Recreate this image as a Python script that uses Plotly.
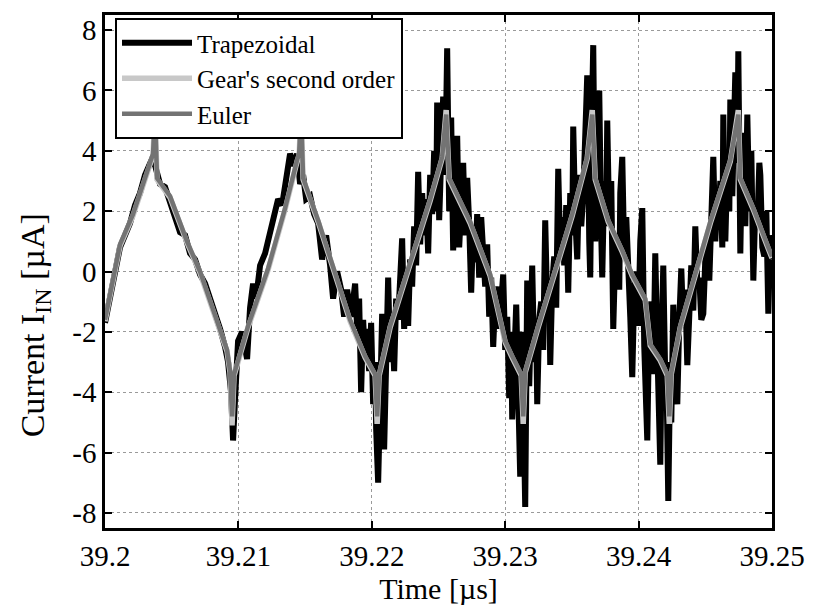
import plotly.graph_objects as go

# ---------------- data ----------------
# Trapezoidal integration (noisy), time in µs, current in µA
trap_t = [
    39.2, 39.200375, 39.20075, 39.201125, 39.2015, 39.201875, 39.20225, 39.202625, 39.203, 39.203375,
    39.2036, 39.203825, 39.204125, 39.2045, 39.204875, 39.20525, 39.205625, 39.206, 39.206375, 39.20675,
    39.207125, 39.2075, 39.207875, 39.20825, 39.208625, 39.209, 39.209225, 39.20945, 39.2096, 39.20975,
    39.209975, 39.210275, 39.21065, 39.210875, 39.2111, 39.211325, 39.211625, 39.212, 39.212375, 39.212675,
    39.212975, 39.213275, 39.213575, 39.213875, 39.214175, 39.2144, 39.214625, 39.21485, 39.215075, 39.215375,
    39.215675, 39.215975, 39.216275, 39.216575, 39.216875, 39.2171, 39.2174, 39.2177, 39.217925, 39.21815,
    39.21845,
    39.21875, 39.2189, 39.21905, 39.2192, 39.21935, 39.2195, 39.21965, 39.2198, 39.21995, 39.2201,
    39.22025, 39.220325, 39.220475, 39.220625, 39.220775, 39.220925, 39.221075, 39.221225, 39.221375, 39.221525,
    39.221675, 39.221825, 39.221975, 39.222125, 39.222275, 39.222425, 39.222575, 39.222725, 39.222875, 39.223025,
    39.223175, 39.223325, 39.223475, 39.223625, 39.223775, 39.223925, 39.224075, 39.224225, 39.224375, 39.224525,
    39.224675, 39.224825, 39.2249, 39.22505, 39.2252, 39.22535, 39.2255, 39.22565, 39.2258, 39.22595,
    39.2261, 39.22625, 39.2264, 39.22655, 39.2267, 39.22685, 39.227, 39.22715, 39.2273, 39.22745,
    39.2276, 39.22775, 39.2279, 39.22805, 39.2282, 39.22835, 39.2285, 39.22865, 39.2288, 39.22895,
    39.2291, 39.22925, 39.2294, 39.22955, 39.2297, 39.22985, 39.23, 39.23015, 39.2303, 39.23045,
    39.230525, 39.230675, 39.230825, 39.230975, 39.231125, 39.231275, 39.231425, 39.2315, 39.23165, 39.2318,
    39.23195, 39.232025, 39.232175, 39.232325, 39.2324, 39.23255, 39.2327, 39.23285, 39.233, 39.23315,
    39.2333, 39.233375, 39.233525, 39.233675, 39.233825, 39.233975, 39.234125, 39.234275, 39.234425, 39.234575,
    39.234725, 39.234875, 39.235025, 39.2351, 39.23525, 39.2354, 39.23555, 39.2357, 39.23585, 39.236,
    39.23615, 39.2363, 39.236375, 39.236525, 39.2366, 39.23675, 39.2369, 39.23705, 39.2372, 39.237275,
    39.237425, 39.237575, 39.23765, 39.2378, 39.23795, 39.2381, 39.23825, 39.2384, 39.23855, 39.238625,
    39.238775, 39.238925, 39.239075, 39.239225, 39.239375, 39.239525, 39.239675, 39.239825, 39.239975, 39.240125,
    39.240275, 39.240425, 39.240575, 39.24065, 39.2408, 39.24095, 39.2411, 39.24125, 39.2414, 39.24155,
    39.241625, 39.241775, 39.24185, 39.242, 39.242075, 39.242225, 39.242375, 39.24245, 39.2426, 39.24275,
    39.2429, 39.24305, 39.2432, 39.24335, 39.2435, 39.24365, 39.2438, 39.24395, 39.2441, 39.24425,
    39.2444, 39.24455, 39.2447, 39.24485, 39.245, 39.24515, 39.2453, 39.24545, 39.2456, 39.24575,
    39.2459, 39.245975, 39.246125, 39.246275, 39.24635, 39.2465, 39.24665, 39.2468, 39.246875, 39.247025,
    39.2471, 39.24725, 39.2474, 39.247475, 39.247625, 39.247775, 39.24785, 39.248, 39.24815, 39.2483,
    39.24845, 39.2486, 39.24875, 39.2489, 39.24905, 39.249125, 39.249275, 39.249425, 39.249575, 39.249725,
    39.249875, 39.25,
]
trap_i = [
    -1.7, -0.9, -0.2, 0.8, 1.2, 1.6, 2.2, 2.6, 3.2, 3.6,
    3.8, 3.4, 2.9, 2.8, 2.3, 1.9, 1.3, 1.2, 0.6, 0.4,
    -0.1, -0.4, -0.9, -1.3, -1.9, -2.5, -3.0, -4.0, -5.6, -4.2,
    -2.3, -2.0, -2.9, -1.2, -0.4, -0.9, 0.2, 0.6, 1.3, 1.9,
    2.4, 2.2, 3.0, 3.9, 3.5, 3.9, 2.9, 3.2, 2.4, 2.5,
    1.9, 1.6, 0.4, 1.2, 0.2, -0.9, 0.0, -0.6, -1.5, -0.6,
    -1.5,
    -0.4, -1.9, -0.9, -4.0, -1.6, -2.9, -1.9, -3.3, -1.7, -4.4,
    -3.0, -5.2, -7.0, -4.3, -1.4, -5.9, -2.5, -0.2, -3.0, -1.8,
    -3.3, -0.9, -1.6, 0.3, 1.1, -1.9, -0.4, -1.8, 0.4, -0.5,
    1.5, 0.2, 3.3, 0.9, 2.6, 1.2, 2.4, 0.6, 3.2, 1.9,
    4.0, 2.0, 5.6, 1.7, 4.4, 5.8, 3.2, 7.4, 2.0, 5.1,
    0.7, 3.6, 4.5, 0.8, 3.0, 3.6, 1.2, 3.1, 1.6, -0.7,
    1.5, 0.3, 1.9, -0.2, 1.8, 0.3, -0.5, 0.9, -1.5, -0.2,
    -2.5, -0.9, -0.5, -1.9, -0.8, -0.1, -2.6, -1.5, -4.2, -2.0,
    -4.9, -2.4, -1.1, -4.0, -6.8, -2.0, -5.5, -7.8, -0.3, -3.8,
    -1.2, 0.2, -3.0, -2.0, -4.4, -1.6, -1.0, -2.6, 1.7, -1.2,
    -0.5, -3.1, -0.4, 0.5, -1.2, 3.4, 0.6, 1.8, 0.2, 2.2,
    -0.7, 2.6, 1.2, 4.8, 1.8, 0.4, 3.2, 1.5, 2.5, 5.0,
    6.5, 1.0, -0.2, 5.8, 7.5, 1.0, 4.1, 6.0, 1.2, -0.2,
    3.0, 1.8, 5.0, 1.5, 3.0, -1.9, 0.6, 1.0, -0.6, 2.6,
    3.8, 0.5, 1.8, 0.5, -1.5, -3.5, -0.6, 0.0, -1.8, 1.0,
    2.1, -2.5, -4.0, -5.6, -1.5, -1.0, -3.4, 0.6, -2.5, -5.0,
    -6.4, -1.2, 0.2, -3.6, -3.0, -7.6, -3.0, -5.0, -1.1, -3.0,
    -4.4, -1.6, 0.1, -1.8, -0.6, -3.1, -1.0, 0.2, -1.3, 1.5,
    -0.4, -0.2, -1.6, -1.4, 0.4, 1.0, -0.3, 2.0, 3.8, 1.0,
    2.8, 1.5, 3.0, 0.8, 5.2, 1.0, 3.5, 2.0, 5.7, 2.5,
    4.0, 6.6, 3.6, 7.3, 0.6, 4.6, 3.5, 1.5, 5.2, 2.0,
    4.0, -0.3, 2.2, 1.5, 3.6, 3.2, 0.8, 0.5, 2.0, -1.4,
    1.2, 0.4,
]

# Gear's second order and Euler (shared sample times)
smooth_t = [
    39.2, 39.200525, 39.201125, 39.2021, 39.202775, 39.203375, 39.2036, 39.20375, 39.2039, 39.204875,
    39.20615, 39.207125, 39.2081, 39.20915, 39.209375, 39.209525, 39.209675, 39.210725, 39.212225, 39.2135,
    39.2144, 39.21455, 39.2147, 39.21485, 39.215975, 39.21725, 39.218375, 39.2195, 39.22025, 39.2204,
    39.22055, 39.221375, 39.2231, 39.224375, 39.225275, 39.225575, 39.2258, 39.227375, 39.228875, 39.23,
    39.230525, 39.2312, 39.23135, 39.2315, 39.232475, 39.233975, 39.235025, 39.23615, 39.236525, 39.23675,
    39.237725, 39.238775, 39.239525, 39.2405, 39.240875, 39.241625, 39.24215, 39.2423, 39.24245, 39.243125,
    39.2444, 39.245375, 39.246875, 39.247475, 39.247625, 39.2486, 39.249725, 39.25,
]
gear_i = [
    -1.65, -0.55, 0.85, 1.85, 2.75, 3.55, 3.85, 5.35, 3.05, 2.45,
    0.95, -0.05, -1.25, -2.65, -3.35, -5.1, -3.45, -1.85, 0.05, 2.05,
    3.65, 3.85, 5.35, 3.05, 1.65, -0.15, -1.65, -2.85, -3.45, -5.05,
    -3.45, -1.85, 0.55, 2.35, 3.75, 5.35, 3.05, 1.6, -0.15, -2.35,
    -2.85, -3.45, -5.05, -3.35, -1.85, 0.3, 1.85, 3.75, 5.35, 3.05,
    1.65, 0.65, -0.15, -0.95, -2.45, -2.95, -3.45, -5.05, -3.4, -1.85,
    0.05, 1.6, 3.65, 5.35, 3.05, 2.05, 0.75, 0.45,
]
euler_i = [
    -1.6, -0.5, 0.9, 1.9, 2.8, 3.6, 3.9, 5.2, 3.1, 2.5,
    1.0, 0.0, -1.2, -2.6, -3.3, -4.8, -3.4, -1.8, 0.1, 2.1,
    3.7, 3.9, 5.2, 3.1, 1.7, -0.1, -1.6, -2.8, -3.4, -4.8,
    -3.4, -1.8, 0.6, 2.4, 3.8, 5.2, 3.1, 1.65, -0.1, -2.3,
    -2.8, -3.4, -4.8, -3.3, -1.8, 0.35, 1.9, 3.8, 5.2, 3.1,
    1.7, 0.7, -0.1, -0.9, -2.4, -2.9, -3.4, -4.8, -3.35, -1.8,
    0.1, 1.65, 3.7, 5.2, 3.1, 2.1, 0.8, 0.5,
]

x_ticks = [39.2, 39.21, 39.22, 39.23, 39.24, 39.25]
x_ticktext = ["39.2", "39.21", "39.22", "39.23", "39.24", "39.25"]
y_ticks = [-8, -6, -4, -2, 0, 2, 4, 6, 8]
y_ticktext = ["-8", "-6", "-4", "-2", "0", "2", "4", "6", "8"]
x_title = "Time [µs]"
y_title = "Current I<sub>IN</sub> [µA]"

FONT = "Liberation Serif"

fig = go.Figure()
fig.add_trace(go.Scatter(x=trap_t, y=trap_i, mode="lines", name="Trapezoidal",
                         line=dict(color="#000000", width=6)))
fig.add_trace(go.Scatter(x=smooth_t, y=gear_i, mode="lines", name="Gear's second order",
                         line=dict(color="#c8c8c8", width=5.5)))
fig.add_trace(go.Scatter(x=smooth_t, y=euler_i, mode="lines", name="Euler",
                         line=dict(color="#737373", width=4.5)))

axis_common = dict(
    showgrid=True, gridcolor="#9a9a9a", gridwidth=1, griddash="dot",
    showline=True, linecolor="#000000", linewidth=2.5, mirror="ticks",
    ticks="inside", ticklen=7, tickwidth=2, tickcolor="#000000",
    zeroline=False,
    tickfont=dict(family=FONT, size=29, color="#000000"),
)

fig.update_layout(
    width=819, height=609,
    margin=dict(l=105, r=47, t=12, b=74),
    paper_bgcolor="white", plot_bgcolor="white",
    font=dict(family=FONT, color="#000000"),
    xaxis=dict(range=[39.2, 39.25], tickmode="array", tickvals=x_ticks, ticktext=x_ticktext,
               title=dict(text=x_title, font=dict(family=FONT, size=30), standoff=4),
               **axis_common),
    yaxis=dict(range=[-8.5, 8.5], tickmode="array", tickvals=y_ticks, ticktext=y_ticktext,
               **axis_common),
    legend=dict(x=0.015, y=0.994, xanchor="left", yanchor="top",
                bgcolor="white", bordercolor="#000000", borderwidth=2,
                font=dict(family=FONT, size=25, color="#000000"),
                itemwidth=70, tracegroupgap=0),
    showlegend=True,
    annotations=[dict(text=y_title, textangle=-90, xref="paper", yref="paper",
                      x=-0.105, y=0.395, xanchor="center", yanchor="middle",
                      showarrow=False, font=dict(family=FONT, size=34, color="#000000"))],
)

fig.write_html("out.html")
